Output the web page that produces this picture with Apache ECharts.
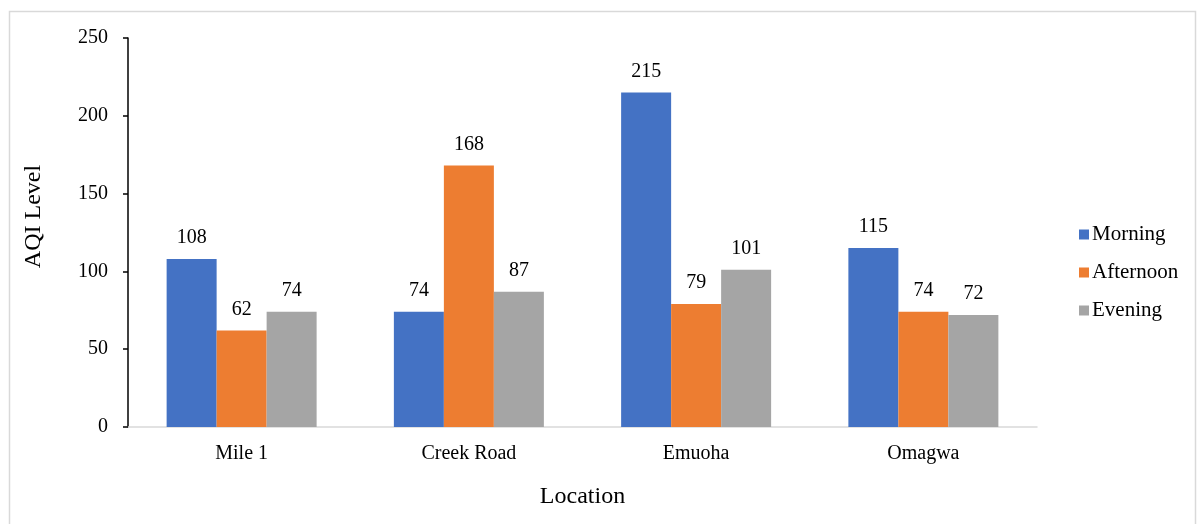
<!DOCTYPE html>
<html>
<head>
<meta charset="utf-8">
<script src="https://cdn.jsdelivr.net/npm/echarts@6/dist/echarts.min.js"></script>
<style>
html, body { margin: 0; padding: 0; background: #fff; }
#main { width: 1198px; height: 524px; }
</style>
</head>
<body>
<div id="main"></div>
<script>
var locations = ['Mile 1', 'Creek Road', 'Emuoha', 'Omagwa'];
var morning = [108, 74, 215, 115];
var afternoon = [62, 168, 79, 74];
var evening = [74, 87, 101, 72];

var font = '"Liberation Serif", "Times New Roman", serif';
var myChart = echarts.init(document.getElementById('main'));

function barSeries(name, data, color) {
    return {
        name: name,
        type: 'bar',
        data: data,
        barWidth: 50,
        barGap: '0%',
        itemStyle: { color: color },
        label: {
            show: true,
            position: 'top',
            distance: 11,
            color: '#000',
            fontFamily: font,
            fontSize: 20
        }
    };
}

myChart.setOption({
    backgroundColor: '#fff',
    textStyle: { fontFamily: font },
    animation: false,
    graphic: [{
        type: 'rect',
        shape: { x: 9.5, y: 11.5, width: 1186, height: 520 },
        style: { fill: 'none', stroke: '#d9d9d9', lineWidth: 1.5 }
    }],
    grid: { left: 128, right: 161, top: 38, bottom: 97 },
    legend: {
        orient: 'vertical',
        left: 1074,
        top: 219,
        itemWidth: 10,
        itemHeight: 10,
        itemGap: 17,
        icon: 'rect',
        textStyle: { fontFamily: font, fontSize: 21, color: '#000', padding: [0, 0, 0, -2] },
        data: ['Morning', 'Afternoon', 'Evening']
    },
    xAxis: {
        type: 'category',
        data: locations,
        name: 'Location',
        nameLocation: 'middle',
        nameGap: 58,
        nameTextStyle: { fontFamily: font, fontSize: 24, color: '#000' },
        axisLine: { lineStyle: { color: '#d9d9d9', width: 1.5 } },
        axisTick: { show: false },
        axisLabel: { fontFamily: font, fontSize: 20, color: '#000', margin: 17 }
    },
    yAxis: {
        type: 'value',
        min: 0,
        max: 250,
        interval: 50,
        name: 'AQI Level',
        nameLocation: 'middle',
        nameGap: 82,
        nameTextStyle: { fontFamily: font, fontSize: 24, color: '#000', padding: [0, 0, 0, 32] },
        axisLine: { show: true, lineStyle: { color: '#000', width: 1.5 } },
        axisTick: { show: true, length: 5, lineStyle: { color: '#000', width: 1.5 } },
        axisLabel: { fontFamily: font, fontSize: 20, color: '#000', margin: 20 },
        splitLine: { show: false }
    },
    series: [
        barSeries('Morning', morning, '#4472c4'),
        barSeries('Afternoon', afternoon, '#ed7d31'),
        barSeries('Evening', evening, '#a5a5a5')
    ]
});
</script>
</body>
</html>
